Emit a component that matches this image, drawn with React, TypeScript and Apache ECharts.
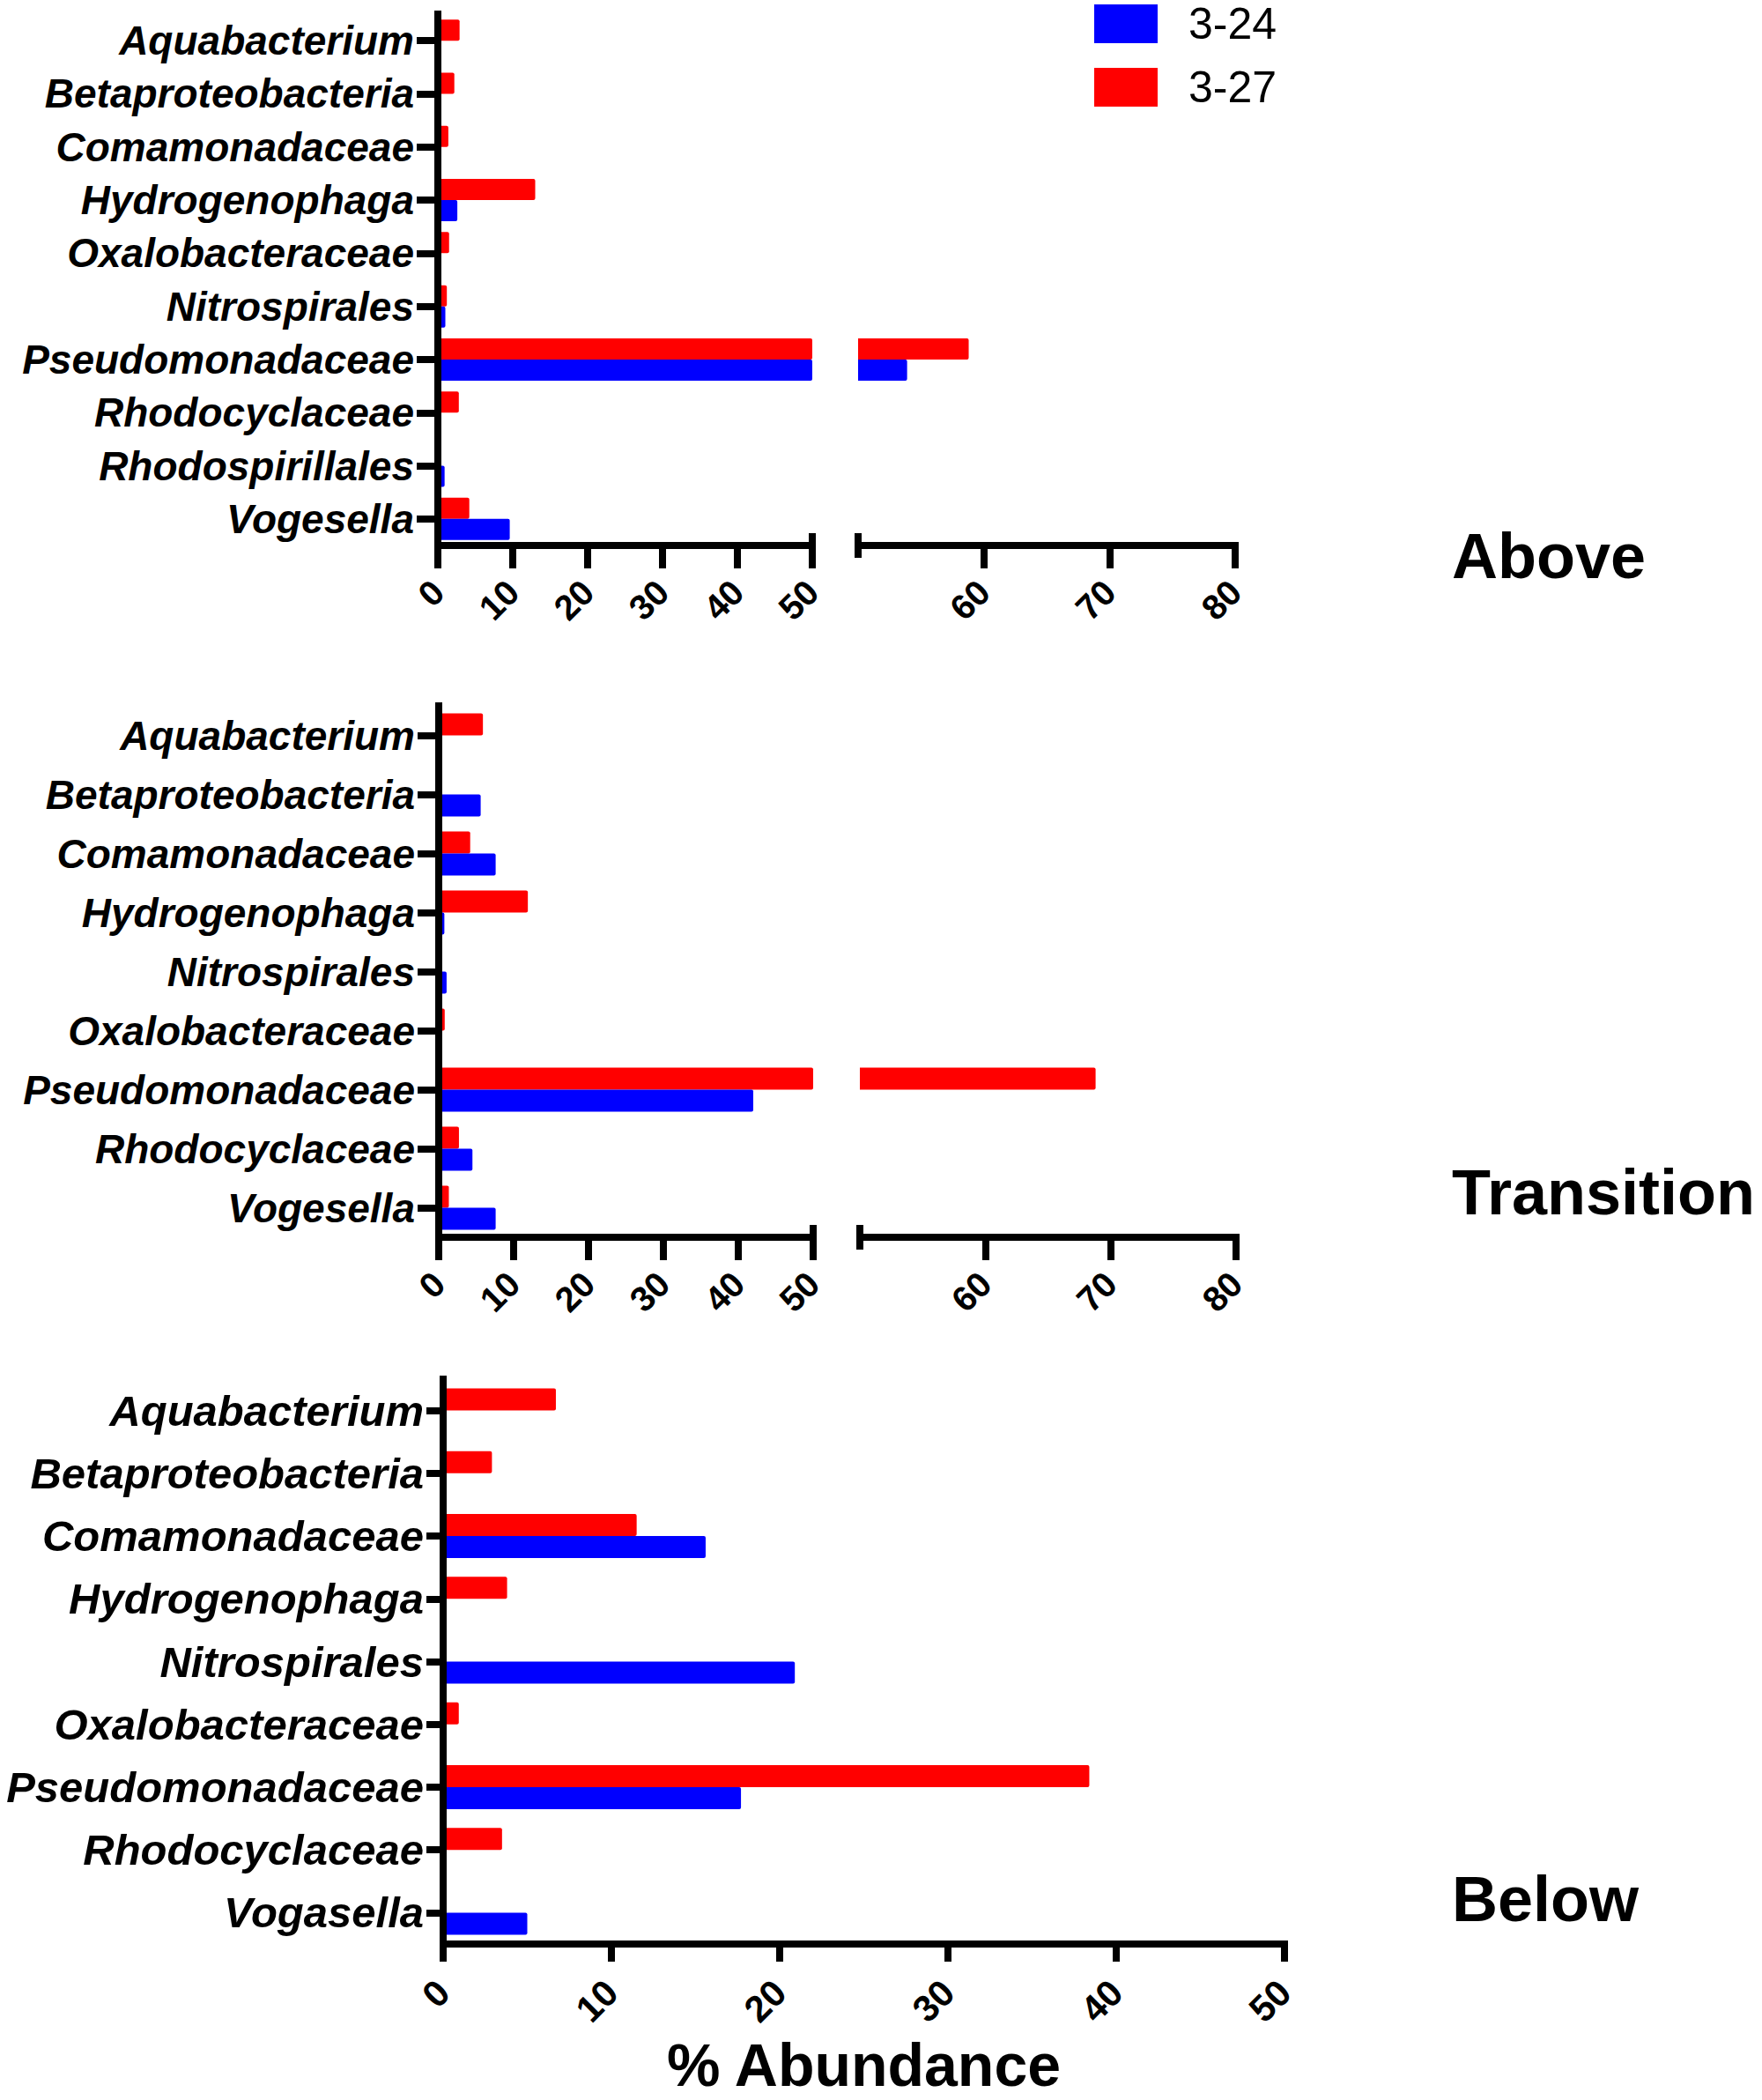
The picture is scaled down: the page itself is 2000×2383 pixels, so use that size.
import React, { useEffect, useRef } from 'react';
import * as echarts from 'echarts';

// ---------- data ----------
const aboveCategories = [
  'Aquabacterium', 'Betaproteobacteria', 'Comamonadaceae', 'Hydrogenophaga', 'Oxalobacteraceae',
  'Nitrospirales', 'Pseudomonadaceae', 'Rhodocyclaceae', 'Rhodospirillales', 'Vogesella',
];
const above324 = [0, 0, 0, 2.6, 0, 1.0, 53.9, 0, 0.9, 9.6];
const above327 = [2.9, 2.2, 1.4, 13.0, 1.5, 1.2, 58.8, 2.8, 0, 4.2];

const transitionCategories = [
  'Aquabacterium', 'Betaproteobacteria', 'Comamonadaceae', 'Hydrogenophaga', 'Nitrospirales',
  'Oxalobacteraceae', 'Pseudomonadaceae', 'Rhodocyclaceae', 'Vogesella',
];
const transition324 = [0, 5.6, 7.6, 0.75, 1.05, 0, 42.0, 4.5, 7.6];
const transition327 = [5.9, 0, 4.2, 11.9, 0, 0.8, 68.8, 2.7, 1.35];

const belowCategories = [
  'Aquabacterium', 'Betaproteobacteria', 'Comamonadaceae', 'Hydrogenophaga', 'Nitrospirales',
  'Oxalobacteraceae', 'Pseudomonadaceae', 'Rhodocyclaceae', 'Vogasella',
];
const below324 = [0, 0, 15.6, 0, 20.9, 0, 17.7, 0, 5.0];
const below327 = [6.7, 2.9, 11.5, 3.8, 0, 0.93, 38.4, 3.5, 0];

const seriesNames = ['3-24', '3-27'];
const seriesColors = ['#0000ff', '#ff0000'];
const breakTicks = [60, 70, 80];
const panelLabels = ['Above', 'Transition', 'Below'];
const xAxisTitle = '% Abundance';

const FONT = '"Liberation Sans", Arial, Helvetica, sans-serif';

export default function App() {
  const ref = useRef<HTMLDivElement>(null);

  useEffect(() => {
    if (!ref.current) return;
    const chart = echarts.init(ref.current, undefined, { renderer: 'svg' });

    const grids = [
      { left: 497, top: 16, width: 425, height: 603 },
      { left: 974, top: 16, width: 428, height: 603 },
      { left: 498, top: 801, width: 425, height: 603 },
      { left: 976, top: 801, width: 427, height: 603 },
      { left: 503, top: 1565, width: 955, height: 641 },
    ];

    const axisLineStyle = { color: '#000', width: 8, cap: 'square' };

    const catAxis = (gridIndex: number, cats: string[], show: boolean, fontSize: number, margin: number, tickLen: number) => ({
      type: 'category',
      gridIndex,
      data: cats,
      inverse: true,
      show,
      z: 10,
      axisLine: { show, lineStyle: axisLineStyle },
      axisTick: { show, alignWithLabel: true, length: tickLen, lineStyle: { color: '#000', width: 8 } },
      axisLabel: {
        show,
        margin,
        color: '#000',
        fontSize,
        fontWeight: 'bold',
        fontStyle: 'italic',
        fontFamily: FONT,
      },
    });

    const valAxis = (gridIndex: number, min: number, max: number, fontSize: number, tickLen: number, margin: number, custom?: number[]) => {
      const ax: any = {
        type: 'value',
        gridIndex,
        min,
        max,
        interval: 10,
        z: 10,
        splitLine: { show: false },
        axisLine: { show: true, lineStyle: axisLineStyle },
        axisTick: { show: true, length: tickLen, lineStyle: { color: '#000', width: 8 } },
        axisLabel: {
          rotate: 45,
          margin,
          color: '#000',
          fontSize,
          fontWeight: 'bold',
          fontFamily: FONT,
        },
      };
      if (custom) {
        ax.axisTick.customValues = custom;
        ax.axisLabel.customValues = custom;
      }
      return ax;
    };

    const xAxis: any[] = [
      valAxis(0, 0, 50, 40, 26, 46),
      valAxis(1, 50, 80, 40, 26, 46, breakTicks),
      valAxis(2, 0, 50, 40, 26, 46),
      valAxis(3, 50, 80, 40, 26, 46, breakTicks),
      {
        ...valAxis(4, 0, 50, 42, 20, 48),
        name: xAxisTitle,
        nameLocation: 'middle',
        nameGap: 103,
        nameTextStyle: { color: '#000', fontSize: 68, lineHeight: 68, fontWeight: 'bold', fontFamily: FONT },
      },
    ];

    const yAxis: any[] = [
      catAxis(0, aboveCategories, true, 46, 27, 24),
      catAxis(1, aboveCategories, false, 46, 27, 24),
      catAxis(2, transitionCategories, true, 46, 27, 24),
      catAxis(3, transitionCategories, false, 46, 27, 24),
      catAxis(4, belowCategories, true, 49, 22, 19),
    ];

    const panelData = [
      [above327, above324, 24],
      [above327, above324, 24],
      [transition327, transition324, 25],
      [transition327, transition324, 25],
      [below327, below324, 25],
    ] as [number[], number[], number][];

    const series: any[] = [];
    panelData.forEach(([red, blue, bw], gi) => {
      series.push({
        type: 'bar',
        name: seriesNames[1],
        xAxisIndex: gi,
        yAxisIndex: gi,
        data: red,
        barWidth: bw,
        barGap: '0%',
        clip: true,
        itemStyle: { color: seriesColors[1], borderRadius: [0, 2, 2, 0] },
      });
      series.push({
        type: 'bar',
        name: seriesNames[0],
        xAxisIndex: gi,
        yAxisIndex: gi,
        data: blue,
        barWidth: bw,
        barGap: '0%',
        clip: true,
        itemStyle: { color: seriesColors[0], borderRadius: [0, 2, 2, 0] },
      });
    });

    chart.setOption({
      animation: false,
      backgroundColor: '#fff',
      grid: grids,
      xAxis,
      yAxis,
      legend: {
        data: [seriesNames[0], seriesNames[1]],
        orient: 'vertical',
        left: 1242,
        top: 2,
        padding: 0,
        icon: 'rect',
        itemWidth: 72,
        itemHeight: 44,
        itemGap: 22,
        selectedMode: false,
        textStyle: { color: '#000', fontSize: 50, fontFamily: FONT, padding: [0, 0, 0, 30] },
      },
      series,
    });

    // axis-break markers, located through the axes' own scales
    const graphics: any[] = [];
    const breakPanels = [
      { a: 0, b: 1, bottom: grids[0].top + grids[0].height },
      { a: 2, b: 3, bottom: grids[2].top + grids[2].height },
    ];
    breakPanels.forEach(({ a, b, bottom }) => {
      const xa = chart.convertToPixel({ xAxisIndex: a }, 50) as number;
      const xb = chart.convertToPixel({ xAxisIndex: b }, 50) as number;
      graphics.push({
        type: 'line',
        z: 20,
        shape: { x1: xa, y1: bottom - 14, x2: xa, y2: bottom },
        style: { stroke: '#000', lineWidth: 8 },
      });
      graphics.push({
        type: 'line',
        z: 20,
        shape: { x1: xb, y1: bottom - 14, x2: xb, y2: bottom + 14 },
        style: { stroke: '#000', lineWidth: 8 },
      });
    });
    const labelY = [631, 1353, 2155];
    panelLabels.forEach((t, i) => {
      graphics.push({
        type: 'text',
        z: 20,
        style: {
          text: t,
          x: 1648,
          y: labelY[i],
          fill: '#000',
          font: `bold 72px ${FONT}`,
          textAlign: 'left',
          textVerticalAlign: 'middle',
        },
      });
    });
    chart.setOption({ graphic: graphics });

    return () => chart.dispose();
  }, []);

  return <div ref={ref} style={{ position: 'absolute', left: 0, top: 0, width: 2000, height: 2383 }} />;
}
